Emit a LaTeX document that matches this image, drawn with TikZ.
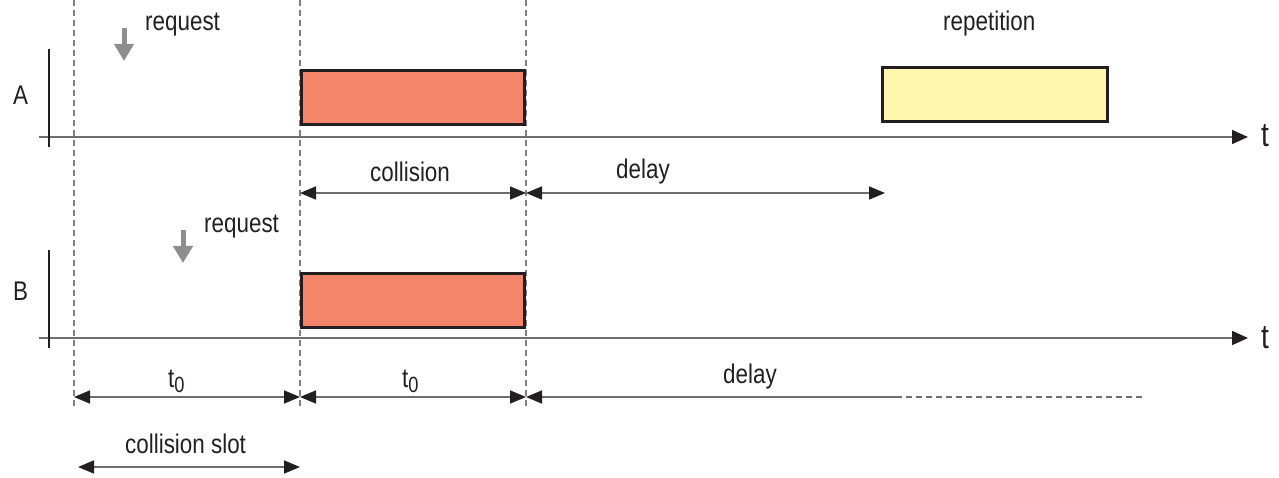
\documentclass[tikz,border=0pt]{standalone}
\usepackage{fontspec}
\setmainfont{Liberation Sans}[FakeStretch=0.83]
\usetikzlibrary{arrows.meta}
\definecolor{axisgray}{HTML}{6E6E6E}
\definecolor{guidegray}{HTML}{808080}
\definecolor{reqgray}{HTML}{8E8E8E}
\definecolor{redfill}{HTML}{F4856A}
\definecolor{yelfill}{HTML}{FFF7AE}
\definecolor{ink}{HTML}{231F20}
\tikzset{
  lbl/.style={anchor=base west, inner sep=0pt, text=ink, font=\fontsize{27}{32}\selectfont},
  biglbl/.style={anchor=base west, inner sep=0pt, text=ink, font=\fontsize{34}{40}\selectfont},
  axisline/.style={draw=axisgray, line width=1.6pt, -{Triangle[length=16pt,width=14pt,color=ink]}},
  tick/.style={draw=ink, line width=1.2pt},
  guide/.style={draw=guidegray, line width=1.3pt, dash pattern=on 6pt off 4pt},
  slot/.style={draw=ink, line width=3pt, inner sep=0pt},
  dim/.style={draw=axisgray, line width=1.6pt, {Triangle[length=16pt,width=13pt,color=ink]}-{Triangle[length=16pt,width=13pt,color=ink]}},
  dimleft/.style={draw=axisgray, line width=1.6pt, {Triangle[length=16pt,width=13pt,color=ink]}-},
  dimdash/.style={draw=axisgray, line width=1.3pt, dash pattern=on 6pt off 4pt},
  req/.style={draw=reqgray, line width=5pt, -{Triangle[length=17pt,width=19pt,color=reqgray]}},
}
\newcommand{\tzero}{t\raisebox{-5pt}{\fontsize{22}{22}\selectfont 0}}
\begin{document}
\begin{tikzpicture}[x=1pt,y=-1pt]
\useasboundingbox (0,0) rectangle (1279,478);
% guide lines
\coordinate (g1t) at (74,0);  \coordinate (g1b) at (74,408);
\coordinate (g2t) at (300,0); \coordinate (g2b) at (300,408);
\coordinate (g3t) at (526,0); \coordinate (g3b) at (526,408);
\draw[guide] (g1t) -- (g1b);
\draw[guide] (g2t) -- (g2b);
\draw[guide] (g3t) -- (g3b);
% boxes
\node[slot, fill=redfill, minimum width=223pt, minimum height=54pt] (ra) at (413,97.5) {};
\node[slot, fill=redfill, minimum width=223pt, minimum height=54pt] (rb) at (413,300.5) {};
\node[slot, fill=yelfill, minimum width=225pt, minimum height=54pt] (ya) at (995,94.5) {};
% axes
\coordinate (a0) at (39,137); \coordinate (a1) at (1248,137);
\coordinate (b0) at (39,338); \coordinate (b1) at (1248,338);
\draw[axisline] (a0) -- (a1);
\draw[axisline] (b0) -- (b1);
\coordinate (va0) at (49,49); \coordinate (va1) at (49,147);
\coordinate (vb0) at (49,250); \coordinate (vb1) at (49,348);
\draw[tick] (va0) -- (va1);
\draw[tick] (vb0) -- (vb1);
\node[lbl] (la) at (13,105) {A};
\node[lbl] (lb) at (13,301) {B};
\node[biglbl] (ta) at (1261,147) {t};
\node[biglbl] (tb) at (1261,348) {t};
% requests
\coordinate (ra0) at (124,28); \coordinate (ra1) at (124,61);
\coordinate (rb0) at (183,230); \coordinate (rb1) at (183,263);
\draw[req] (ra0) -- (ra1);
\draw[req] (rb0) -- (rb1);
\node[lbl] (qa) at (145,31) {request};
\node[lbl] (qb) at (204,233) {request};
\node[lbl] (rep) at (943,31) {repetition};
% top dimension arrows
\coordinate (c0) at (300,193); \coordinate (c1) at (526,193); \coordinate (c2) at (885,193);
\draw[dim] (c0) -- (c1);
\draw[dim] (c1) -- (c2);
\node[lbl] (col) at (370,182) {collision};
\node[lbl] (dl1) at (616,179) {delay};
% bottom dimension arrows
\coordinate (d0) at (74,397); \coordinate (d1) at (300,397); \coordinate (d2) at (526,397);
\coordinate (d3) at (896,397); \coordinate (d4) at (1143,397);
\draw[dim] (d0) -- (d1);
\draw[dim] (d1) -- (d2);
\draw[dimleft] (d2) -- (d3);
\draw[dimdash] (d3) -- (d4);
\node[lbl] (t01) at (168,387) {\tzero};
\node[lbl] (t02) at (402,387) {\tzero};
\node[lbl] (dl2) at (723,383) {delay};
% collision slot
\coordinate (s0) at (78,467); \coordinate (s1) at (300,467);
\draw[dim] (s0) -- (s1);
\node[lbl] (cs) at (125,453) {collision slot};
\end{tikzpicture}
\end{document}
